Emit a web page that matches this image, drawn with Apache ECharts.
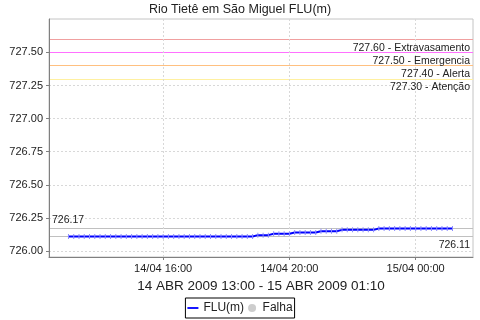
<!DOCTYPE html>
<html>
<head>
<meta charset="utf-8">
<script src="https://cdn.jsdelivr.net/npm/echarts@6/dist/echarts.min.js"></script>
<style>html,body{margin:0;padding:0;background:#fff}#c{width:480px;height:320px}</style>
</head>
<body>
<div id="c"></div>
<script>
var title = 'Rio Tietê em São Miguel FLU(m)';
var xName = '14 ABR 2009 13:00 - 15 ABR 2009 01:10';
var times = [
 '2009-04-14 13:00','2009-04-14 13:10','2009-04-14 13:20','2009-04-14 13:30','2009-04-14 13:40','2009-04-14 13:50',
 '2009-04-14 14:00','2009-04-14 14:10','2009-04-14 14:20','2009-04-14 14:30','2009-04-14 14:40','2009-04-14 14:50',
 '2009-04-14 15:00','2009-04-14 15:10','2009-04-14 15:20','2009-04-14 15:30','2009-04-14 15:40','2009-04-14 15:50',
 '2009-04-14 16:00','2009-04-14 16:10','2009-04-14 16:20','2009-04-14 16:30','2009-04-14 16:40','2009-04-14 16:50',
 '2009-04-14 17:00','2009-04-14 17:10','2009-04-14 17:20','2009-04-14 17:30','2009-04-14 17:40','2009-04-14 17:50',
 '2009-04-14 18:00','2009-04-14 18:10','2009-04-14 18:20','2009-04-14 18:30','2009-04-14 18:40','2009-04-14 18:50',
 '2009-04-14 19:00','2009-04-14 19:10','2009-04-14 19:20','2009-04-14 19:30','2009-04-14 19:40','2009-04-14 19:50',
 '2009-04-14 20:00','2009-04-14 20:10','2009-04-14 20:20','2009-04-14 20:30','2009-04-14 20:40','2009-04-14 20:50',
 '2009-04-14 21:00','2009-04-14 21:10','2009-04-14 21:20','2009-04-14 21:30','2009-04-14 21:40','2009-04-14 21:50',
 '2009-04-14 22:00','2009-04-14 22:10','2009-04-14 22:20','2009-04-14 22:30','2009-04-14 22:40','2009-04-14 22:50',
 '2009-04-14 23:00','2009-04-14 23:10','2009-04-14 23:20','2009-04-14 23:30','2009-04-14 23:40','2009-04-14 23:50',
 '2009-04-15 00:00','2009-04-15 00:10','2009-04-15 00:20','2009-04-15 00:30','2009-04-15 00:40','2009-04-15 00:50',
 '2009-04-15 01:00','2009-04-15 01:10'
];
var flu = [
 726.11,726.11,726.11,726.11,726.11,726.11,
 726.11,726.11,726.11,726.11,726.11,726.11,
 726.11,726.11,726.11,726.11,726.11,726.11,
 726.11,726.11,726.11,726.11,726.11,726.11,
 726.11,726.11,726.11,726.11,726.11,726.11,
 726.11,726.11,726.11,726.11,726.11,726.11,
 726.12,726.12,726.12,726.13,726.13,726.13,
 726.13,726.14,726.14,726.14,726.14,726.14,
 726.15,726.15,726.15,726.15,726.16,726.16,
 726.16,726.16,726.16,726.16,726.16,726.17,
 726.17,726.17,726.17,726.17,726.17,726.17,
 726.17,726.17,726.17,726.17,726.17,726.17,
 726.17,726.17
];
var thresholdValues = [727.30, 727.40, 727.50, 727.60];
var thresholdNames = ['Atenção', 'Alerta', 'Emergencia', 'Extravasamento'];
var thresholdColors = ['#fff0a0', '#ffc080', '#ff70ff', '#f0a0a0'];
var fluMin = 726.11, fluMax = 726.17;
var refLineColor = '#c0c0c0';
var yTicks = [726.00, 726.25, 726.50, 726.75, 727.00, 727.25, 727.50];
var xTicks = ['2009-04-14 16:00', '2009-04-14 20:00', '2009-04-15 00:00'];
var xRange = ['2009-04-14 12:23', '2009-04-15 01:49'];
var yRange = [725.955, 727.752];
var legendNames = ['FLU(m)', 'Falha'];

function toMs(s) {
  var p = s.split(/[- :]/);
  return Date.UTC(+p[0], +p[1] - 1, +p[2], +p[3], +p[4]);
}
function pad(n) { return (n < 10 ? '0' : '') + n; }
function fmtX(v) {
  var d = new Date(v);
  return pad(d.getUTCDate()) + '/' + pad(d.getUTCMonth() + 1) + ' ' + pad(d.getUTCHours()) + ':' + pad(d.getUTCMinutes());
}

var FONT = 'Liberation Sans';
var labelBase = { color: '#222', fontFamily: FONT, fontSize: 10.5, distance: [3, 3] };

// reference lines drawn crisp as split lines of a hidden second y axis
var refValues = [fluMin, fluMax].concat(thresholdValues);
var refColors = [refLineColor, refLineColor].concat(thresholdColors);

// labels via transparent markLines
var markData = [];
for (var i = 0; i < thresholdValues.length; i++) {
  markData.push({ yAxis: thresholdValues[i],
    label: Object.assign({ show: true, position: 'insideEndBottom', formatter: thresholdValues[i].toFixed(2) + ' - ' + thresholdNames[i] }, labelBase) });
}
markData.push({ yAxis: fluMax, label: Object.assign({ show: true, position: 'insideStartTop', formatter: fluMax.toFixed(2) }, labelBase) });
markData.push({ yAxis: fluMin, label: Object.assign({ show: true, position: 'insideEndBottom', formatter: fluMin.toFixed(2) }, labelBase) });

var seriesData = times.map(function (t, i) { return [toMs(t), flu[i]]; });

var chart = echarts.init(document.getElementById('c'), null, { renderer: 'canvas' });
chart.setOption({
  animation: false,
  backgroundColor: '#fff',
  title: {
    text: title, left: 'center', top: 3, padding: 0,
    textStyle: { fontFamily: FONT, fontSize: 12.5, fontWeight: 'normal', color: '#222' }
  },
  grid: { left: 49, right: 7, top: 19, bottom: 63, show: true, borderColor: '#c4c4c4', borderWidth: 1, backgroundColor: '#fff' },
  legend: {
    bottom: 2, left: 'center',
    data: [
      { name: legendNames[0], icon: 'path://M0,0H12V2H0Z', itemStyle: { color: '#0000ff' } },
      { name: legendNames[1], icon: 'circle', itemStyle: { color: '#c0c0c0' } }
    ],
    itemWidth: 11, itemHeight: 8, itemGap: 4,
    borderColor: '#000', borderWidth: 1, padding: [4, 2, 4, 2], borderRadius: 0,
    textStyle: { fontFamily: FONT, fontSize: 12, color: '#222' }
  },
  xAxis: {
    type: 'value',
    min: toMs(xRange[0]), max: toMs(xRange[1]),
    name: xName, nameLocation: 'middle', nameGap: 19,
    nameTextStyle: { fontFamily: FONT, fontSize: 13.5, color: '#222' },
    axisLine: { show: true, lineStyle: { color: '#808080', width: 1 } },
    axisTick: { show: true, length: 3, inside: false, lineStyle: { color: '#808080' }, customValues: xTicks.map(toMs) },
    axisLabel: { customValues: xTicks.map(toMs), formatter: fmtX, fontFamily: FONT, fontSize: 11, color: '#222', margin: 6 },
    splitLine: { show: true, lineStyle: { color: '#d8d8d8', type: [2, 2], width: 1 } }
  },
  yAxis: [{
    type: 'value',
    min: yRange[0], max: yRange[1],
    axisLine: { show: true, lineStyle: { color: '#808080', width: 1 } },
    axisTick: { show: true, length: 3, inside: false, lineStyle: { color: '#808080' }, customValues: yTicks },
    axisLabel: { customValues: yTicks, formatter: function (v) { return v.toFixed(2); }, fontFamily: FONT, fontSize: 11, color: '#222', margin: 6 },
    splitLine: { show: true, lineStyle: { color: '#d8d8d8', type: [2, 2], width: 1 } }
  }, {
    type: 'value', position: 'left',
    min: yRange[0], max: yRange[1],
    axisLine: { show: false },
    axisTick: { show: false, customValues: refValues },
    axisLabel: { show: false, customValues: refValues },
    splitLine: { show: true, lineStyle: { color: refColors, type: 'solid', width: 1 } }
  }],
  series: [
    {
      name: legendNames[0], type: 'line', data: seriesData,
      showSymbol: true, showAllSymbol: true, symbol: 'rect', symbolSize: [1, 5],
      itemStyle: { color: '#8c8cff' },
      lineStyle: { color: '#0000ff', width: 2 },
      z: 5,
      markLine: { silent: true, symbol: 'none', animation: false,
        lineStyle: { color: 'rgba(0,0,0,0)', width: 1, type: 'solid' }, data: markData }
    },
    {
      name: legendNames[1], type: 'scatter', data: [],
      itemStyle: { color: '#c0c0c0' }
    }
  ]
});
</script>
</body>
</html>
